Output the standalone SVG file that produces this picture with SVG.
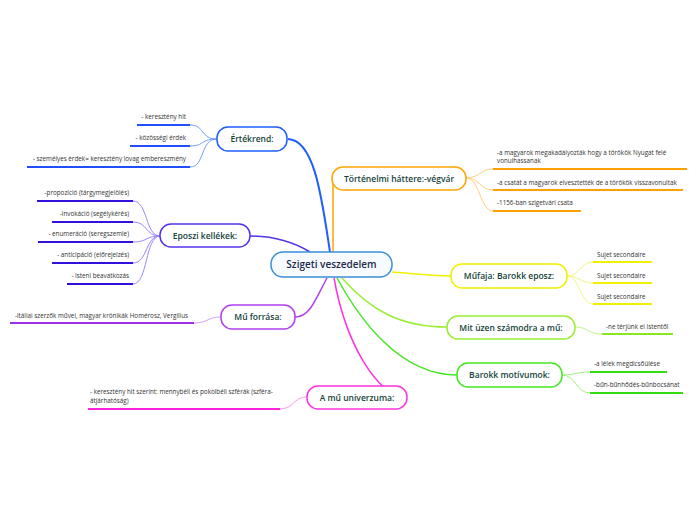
<svg xmlns="http://www.w3.org/2000/svg" width="696" height="520" viewBox="0 0 696 520">
<style>
.n{fill:#fff;stroke-width:1.5}
.nt{font-family:"Open Sans","Noto Sans",sans-serif;font-size:8.5px;font-weight:600;fill:#14433a;text-anchor:middle}
.ct{font-family:"Open Sans","Noto Sans",sans-serif;font-size:10px;font-weight:600;fill:#1b2a4e;text-anchor:middle}
.st{font-family:"Open Sans","Noto Sans",sans-serif;font-size:6.3px;fill:#333}
.r{text-anchor:end}
.c{fill:none}
.u{fill:none;stroke-width:2}
.s{fill:none;stroke-width:1}
</style>
<g id="connectors">
<path class="c" d="M330,252 C322,200 315,140 288,139" stroke="#1f5fff" stroke-width="2"/>
<path class="c" d="M333,252 L333,176" stroke="#ffa500" stroke-width="1.5"/>
<path class="c" d="M392,272 C420,274 430,276 451,276" stroke="#f0f000" stroke-width="1.5"/>
<path class="c" d="M342,278 C370,310 400,327 447,327" stroke="#99ee33" stroke-width="1.5"/>
<path class="c" d="M337,278 C360,320 400,375 457,375" stroke="#44e622" stroke-width="1.5"/>
<path class="c" d="M334,278 C345,340 375,395 407,398" stroke="#ff33dd" stroke-width="1.5"/>
<path class="c" d="M327,278 C315,300 310,317 295,317" stroke="#b040f0" stroke-width="1.5"/>
<path class="c" d="M310,252 C290,240 270,236 250,236" stroke="#5533ee" stroke-width="1.5"/>
<path class="s" d="M217,139 C200,139 205,125 190,125" stroke="#6f9bff"/>
<path class="s" d="M217,139 C200,139 205,146 190,146" stroke="#6f9bff"/>
<path class="s" d="M217,139 C200,139 205,167 190,167" stroke="#6f9bff"/>
<path class="u" d="M137,125 H190 M130,146 H190 M27,167 H190" stroke="#1f4fff"/>
<path class="s" d="M466,178 C480,178 480,169 493,169" stroke="#ffcf80"/>
<path class="s" d="M466,178 C480,178 480,190 493,190" stroke="#ffcf80"/>
<path class="s" d="M466,178 C480,178 480,211 493,211" stroke="#ffcf80"/>
<path class="u" d="M493,169 H687 M493,190 H683 M493,211 H581" stroke="#ffa000"/>
<path class="s" d="M567,276 C580,276 580,262 593,262" stroke="#f5f57a"/>
<path class="s" d="M567,276 C580,276 580,283 593,283" stroke="#f5f57a"/>
<path class="s" d="M567,276 C580,276 580,304 593,304" stroke="#f5f57a"/>
<path class="u" d="M593,262 H652 M593,283 H652 M593,304 H652" stroke="#f0f000"/>
<path class="s" d="M575,327 C588,327 588,334 602,334" stroke="#bff58a"/>
<path class="u" d="M602,334 H673" stroke="#88e622"/>
<path class="s" d="M562,375 C576,375 576,372 590,372" stroke="#a0f080"/>
<path class="s" d="M562,375 C576,375 576,393 590,393" stroke="#a0f080"/>
<path class="u" d="M590,372 H667 M590,393 H683" stroke="#33dd11"/>
<path class="s" d="M307,397 C293,397 294,409 280,409" stroke="#ff99ee"/>
<path class="u" d="M88,409 H280" stroke="#ff22dd"/>
<path class="s" d="M221,317 C207,317 208,323 194,323" stroke="#d8a0f8"/>
<path class="u" d="M10,323 H194" stroke="#a030e8"/>
<path class="s" d="M160,236 C145,236 148,201 133,201" stroke="#9988ff"/>
<path class="s" d="M160,236 C145,236 148,222 133,222" stroke="#9988ff"/>
<path class="s" d="M160,236 C145,236 148,242 133,242" stroke="#9988ff"/>
<path class="s" d="M160,236 C145,236 148,263 133,263" stroke="#9988ff"/>
<path class="s" d="M160,236 C145,236 148,284 133,284" stroke="#9988ff"/>
<path class="u" d="M37,201 H133 M52,222 H133 M38,242 H133 M52,263 H133 M67,284 H133" stroke="#3311dd"/>
</g>
<g id="central">
<rect x="271" y="252" width="121" height="25" rx="12" fill="#f7fbff" stroke="#3a8fd6" stroke-width="1.5"/>
<text class="ct" x="331.5" y="268">Szigeti veszedelem</text>
</g>
<g id="ertekrend">
<rect class="n" x="217" y="127" width="70" height="24" rx="11" stroke="#1f5fff"/>
<text class="nt" x="252" y="142">Értékrend:</text>
<text class="st r" x="186" y="119">- keresztény hit</text>
<text class="st r" x="186" y="140">- közösségi érdek</text>
<text class="st r" x="186" y="161">- személyes érdek= keresztény lovag embereszmény</text>
</g>
<g id="tortenelmi">
<rect class="n" x="332" y="167" width="134" height="23" rx="11" stroke="#ffa500"/>
<text class="nt" x="399" y="181.5">Történelmi háttere:-végvár</text>
<text class="st" x="497" y="155">-a magyarok megakadályozták hogy a törökök  Nyugat felé</text>
<text class="st" x="497" y="163">vonulhassanak</text>
<text class="st" x="497" y="185">-a csatát a magyarok elvesztették de a törökök visszavonultak</text>
<text class="st" x="497" y="205">-1156-ban szigetvári csata</text>
</g>
<g id="mufaja">
<rect class="n" x="451" y="264" width="116" height="24" rx="11" stroke="#f0f000"/>
<text class="nt" x="509" y="279">Műfaja: Barokk eposz:</text>
<text class="st" x="597" y="257">Sujet secondaire</text>
<text class="st" x="597" y="278">Sujet secondaire</text>
<text class="st" x="597" y="299">Sujet secondaire</text>
</g>
<g id="mit-uzen">
<rect class="n" x="447" y="316" width="128" height="23" rx="11" stroke="#99ee33"/>
<text class="nt" x="511" y="330.5">Mit üzen számodra a mű:</text>
<text class="st" x="606" y="329">-ne térjünk el Istentől</text>
</g>
<g id="barokk-motivumok">
<rect class="n" x="457" y="363" width="105" height="24" rx="11" stroke="#44e622"/>
<text class="nt" x="509.5" y="378">Barokk motívumok:</text>
<text class="st" x="594" y="366">-a lélek megdicsőülése</text>
<text class="st" x="594" y="387">-bűn-bűnhődés-bűnbocsánat</text>
</g>
<g id="univerzum">
<rect class="n" x="307" y="386" width="100" height="23" rx="11" stroke="#ff33dd"/>
<text class="nt" x="357" y="400.5">A mű univerzuma:</text>
<text class="st" x="90" y="394">- keresztény hit szerint: mennybéli és pokolbéli szférák (szféra-</text>
<text class="st" x="90" y="403">átjárhatóság)</text>
</g>
<g id="forrasa">
<rect class="n" x="221" y="305" width="74" height="24" rx="11" stroke="#b040f0"/>
<text class="nt" x="258" y="320">Mű forrása:</text>
<text class="st" x="15" y="318">-itáliai szerzők művei, magyar krónikák Homérosz, Vergilius</text>
</g>
<g id="eposzi">
<rect class="n" x="160" y="224" width="90" height="23" rx="11" stroke="#5533ee"/>
<text class="nt" x="205" y="238.5">Eposzi kellékek:</text>
<text class="st r" x="129" y="195">-propozíció (tárgymegjelölés)</text>
<text class="st r" x="129" y="216">-invokáció (segélykérés)</text>
<text class="st r" x="129" y="236">- enumeráció (seregszemle)</text>
<text class="st r" x="129" y="257">- anticipáció (előrejelzés)</text>
<text class="st r" x="129" y="278">- Isteni beavatkozás</text>
</g>
</svg>
